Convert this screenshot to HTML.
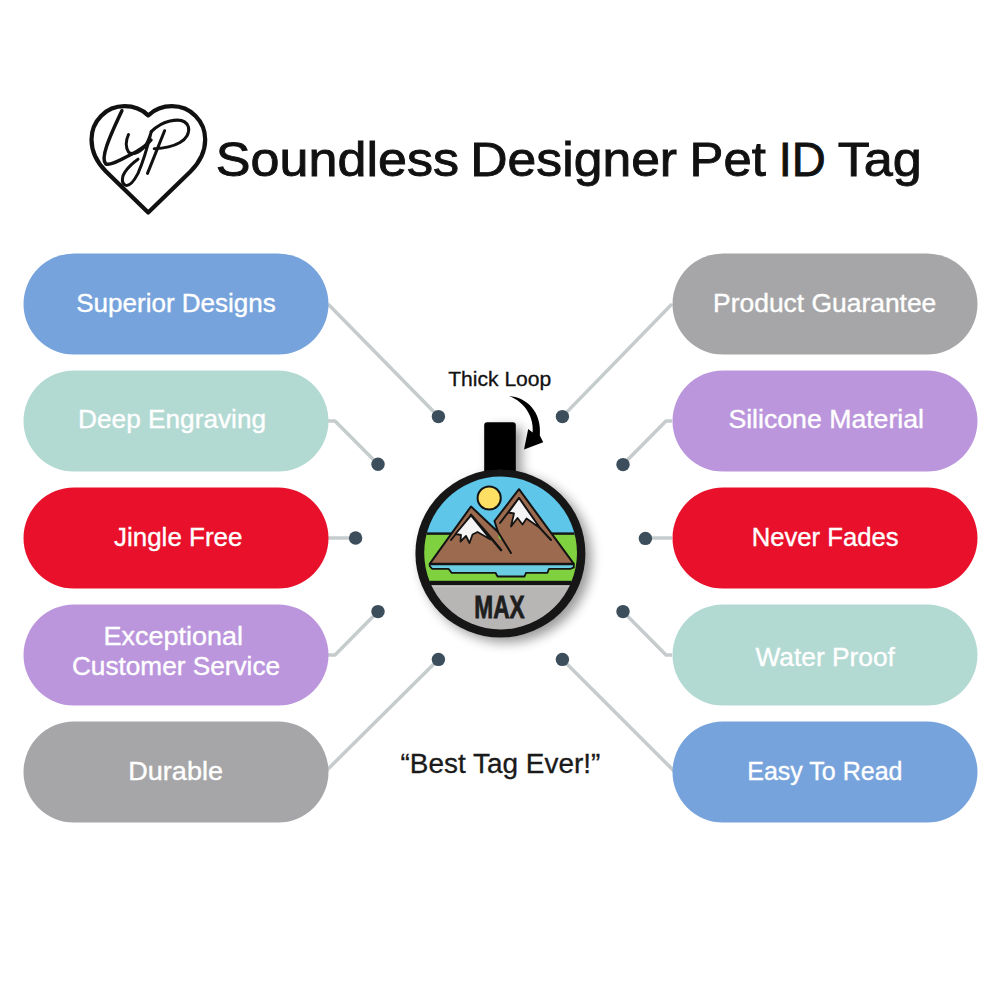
<!DOCTYPE html>
<html>
<head>
<meta charset="utf-8">
<style>
html,body{margin:0;padding:0;background:#fff;width:1000px;height:1000px;overflow:hidden}
svg{display:block}
text{font-family:"Liberation Sans",sans-serif}
.pt{fill:#fff;font-size:25px;text-anchor:middle;letter-spacing:0.4px;stroke:#fff;stroke-width:0.35px}
</style>
</head>
<body>
<svg width="1000" height="1000" viewBox="0 0 1000 1000">
<defs>
  <filter id="sh" x="-30%" y="-30%" width="160%" height="160%">
    <feGaussianBlur in="SourceAlpha" stdDeviation="6"/>
    <feOffset dx="6" dy="5" result="b"/>
    <feComponentTransfer><feFuncA type="linear" slope="0.4"/></feComponentTransfer>
    <feMerge><feMergeNode/><feMergeNode in="SourceGraphic"/></feMerge>
  </filter>
  <clipPath id="inner"><circle cx="500.6" cy="553" r="76.4"/></clipPath>
</defs>

<!-- heart logo -->
<g fill="none" stroke="#111" stroke-linecap="round" stroke-linejoin="round">
  <path stroke-width="4.2" d="M148.2,115.4 C140,107.5 132,106.2 124.5,106.2 C106,106.2 91.5,121 91.5,139.5 C91.5,151 96.5,162 106,171.5 L148.2,212.6 L190.5,171.5 C200,162 205.2,151 205.2,139.5 C205.2,121 190.5,106.2 172,106.2 C164.5,106.2 156.5,107.5 148.2,115.4 Z"/>
  <path stroke-width="3.5" d="M121.9,110.7 C117,121 110,136 106.7,146 C104,154 103,161 105.7,163.9 C110,166 120,160 130,155 C138,151 146,146 151,140"/>
  <path stroke-width="3" d="M128.5,134.5 C126,140 125.5,147 128.5,152 C131,155 138,154 144.7,146.8 C148,142 150,136 151.3,131.6 C148,145 143,162 138,173.4 C134,181 129,187 125,185 C121,183 122,176 125,172 C129,166 134,162 138,159.2"/>
  <path stroke-width="3" d="M164.6,130.7 L147.5,173.4"/>
  <path stroke-width="3" d="M151.3,131.6 C157,126 163,122.5 170,121 C177,119.5 186,119.5 188.4,126.9 C190,133 186,139 180,142.5 C173,146.5 163,148.5 154.2,148.7"/>
</g>

<!-- connectors -->
<g fill="none" stroke="#c6cccd" stroke-width="3.5" stroke-linejoin="round">
  <path d="M328,304 L438.4,416.6"/>
  <path d="M328,421 L335,421 L378,464.2"/>
  <path d="M328,538 L355.6,538"/>
  <path d="M328,655 L335,655 L378,611.6"/>
  <path d="M318,779 L438.4,659.4"/>
  <path d="M672,304 L562.4,416.6"/>
  <path d="M672,421 L666,421 L623,464.6"/>
  <path d="M672,538 L645.4,538"/>
  <path d="M672,655 L666,655 L623,611.6"/>
  <path d="M682,779 L562.4,659.4"/>
</g>
<g fill="#3c4e5b">
  <circle cx="438.4" cy="416.6" r="6.7"/>
  <circle cx="378" cy="464.2" r="6.7"/>
  <circle cx="355.6" cy="538" r="6.7"/>
  <circle cx="378" cy="611.6" r="6.7"/>
  <circle cx="438.4" cy="659.4" r="6.7"/>
  <circle cx="562.4" cy="416.6" r="6.7"/>
  <circle cx="623" cy="464.6" r="6.7"/>
  <circle cx="645.4" cy="538.4" r="6.7"/>
  <circle cx="623" cy="611.6" r="6.7"/>
  <circle cx="562.4" cy="659.4" r="6.7"/>
</g>

<!-- pills left -->
<rect x="23.5" y="253.5" width="305" height="101" rx="50.5" fill="#77a3dc"/>
<rect x="23.5" y="370.5" width="305" height="101" rx="50.5" fill="#b3d9d3"/>
<rect x="23.5" y="487.5" width="305" height="101" rx="50.5" fill="#e8102a"/>
<rect x="23.5" y="604.5" width="305" height="101" rx="50.5" fill="#bb96dc"/>
<rect x="23.5" y="721.5" width="305" height="101" rx="50.5" fill="#a6a6a8"/>
<!-- pills right -->
<rect x="672.5" y="253.5" width="305" height="101" rx="50.5" fill="#a6a6a8"/>
<rect x="672.5" y="370.5" width="305" height="101" rx="50.5" fill="#bb96dc"/>
<rect x="672.5" y="487.5" width="305" height="101" rx="50.5" fill="#e8102a"/>
<rect x="672.5" y="604.5" width="305" height="101" rx="50.5" fill="#b3d9d3"/>
<rect x="672.5" y="721.5" width="305" height="101" rx="50.5" fill="#77a3dc"/>

<text x="76.21" y="311.7" font-size="25" font-weight="400" fill="#fff" stroke="#fff" stroke-width="0.35" textLength="199.59" lengthAdjust="spacingAndGlyphs">Superior Designs</text>
<text x="78.10" y="427.6" font-size="25" font-weight="400" fill="#fff" stroke="#fff" stroke-width="0.35" textLength="187.96" lengthAdjust="spacingAndGlyphs">Deep Engraving</text>
<text x="114.00" y="546" font-size="25" font-weight="400" fill="#fff" stroke="#fff" stroke-width="0.35" textLength="128.40" lengthAdjust="spacingAndGlyphs">Jingle Free</text>
<text x="103.64" y="644.8" font-size="25" font-weight="400" fill="#fff" stroke="#fff" stroke-width="0.35" textLength="139.30" lengthAdjust="spacingAndGlyphs">Exceptional</text>
<text x="71.95" y="675" font-size="25" font-weight="400" fill="#fff" stroke="#fff" stroke-width="0.35" textLength="208.15" lengthAdjust="spacingAndGlyphs">Customer Service</text>
<text x="128.24" y="780" font-size="25" font-weight="400" fill="#fff" stroke="#fff" stroke-width="0.35" textLength="94.77" lengthAdjust="spacingAndGlyphs">Durable</text>
<text x="713.09" y="312" font-size="25" font-weight="400" fill="#fff" stroke="#fff" stroke-width="0.35" textLength="223.23" lengthAdjust="spacingAndGlyphs">Product Guarantee</text>
<text x="728.43" y="428" font-size="25" font-weight="400" fill="#fff" stroke="#fff" stroke-width="0.35" textLength="195.58" lengthAdjust="spacingAndGlyphs">Silicone Material</text>
<text x="751.70" y="546.25" font-size="25" font-weight="400" fill="#fff" stroke="#fff" stroke-width="0.35" textLength="146.96" lengthAdjust="spacingAndGlyphs">Never Fades</text>
<text x="755.50" y="666.25" font-size="25" font-weight="400" fill="#fff" stroke="#fff" stroke-width="0.35" textLength="139.42" lengthAdjust="spacingAndGlyphs">Water Proof</text>
<text x="747.25" y="780" font-size="25" font-weight="400" fill="#fff" stroke="#fff" stroke-width="0.35" textLength="155.20" lengthAdjust="spacingAndGlyphs">Easy To Read</text>
<text x="215.88" y="176.2" font-size="49" font-weight="400" fill="#111" stroke="#111" stroke-width="0.9" textLength="243.07" lengthAdjust="spacingAndGlyphs">Soundless</text>
<text x="470.28" y="176.2" font-size="49" font-weight="400" fill="#111" stroke="#111" stroke-width="0.9" textLength="206.83" lengthAdjust="spacingAndGlyphs">Designer</text>
<text x="689.61" y="176.2" font-size="49" font-weight="400" fill="#111" stroke="#111" stroke-width="0.9" textLength="76.19" lengthAdjust="spacingAndGlyphs">Pet</text>
<text x="778.66" y="176.2" font-size="49" font-weight="400" fill="#111" stroke="#111" stroke-width="0.9" textLength="47.01" lengthAdjust="spacingAndGlyphs">ID</text>
<text x="837.68" y="176.2" font-size="49" font-weight="400" fill="#111" stroke="#111" stroke-width="0.9" textLength="84.28" lengthAdjust="spacingAndGlyphs">Tag</text>
<text x="448.20" y="385.8" font-size="20" font-weight="400" fill="#111" stroke="#111" stroke-width="0.3" textLength="103.09" lengthAdjust="spacingAndGlyphs">Thick Loop</text>
<text x="400.46" y="772.5" font-size="27" font-weight="400" fill="#1a1a1a" stroke="#1a1a1a" stroke-width="0.3" textLength="199.95" lengthAdjust="spacingAndGlyphs">&#8220;Best Tag Ever!&#8221;</text>
<!-- arrow -->
<path transform="translate(440,360) scale(0.12)" fill="#000" d="M575,300 C720,310 850,430 832,630 L860,685 L700,745 L735,575 L772,605 C785,480 710,350 575,300 Z"/>

<!-- tag -->
<g filter="url(#sh)">
  <rect x="484.2" y="422.2" width="31.6" height="70" rx="3" fill="#000"/>
  <ellipse cx="500.4" cy="553.5" rx="85" ry="84" fill="#161616"/>
</g>
<g clip-path="url(#inner)">
  <rect x="420" y="470" width="165" height="64" fill="#5ec6e9"/>
  <rect x="420" y="533" width="165" height="49" fill="#80d13f"/>
  <rect x="420" y="580.8" width="165" height="4.4" fill="#141414"/>
  <rect x="420" y="585.2" width="165" height="50" fill="#b8b5b5"/>
  <rect x="420" y="585.6" width="165" height="1.2" fill="#cac7c7"/>
  <rect x="420" y="532.4" width="165" height="2.4" fill="#141414"/>
</g>
<circle cx="489.2" cy="498" r="11.6" fill="#fde063" stroke="#141414" stroke-width="2"/>
<g stroke="#141414" stroke-width="2" stroke-linejoin="round" stroke-linecap="round">
  <path fill="#9c6a4e" d="M429.7,563.8 L471,506.5 L498,532 L494.5,521 L519,489.2 L573.8,563.8 Z"/>
  <path fill="#80d13f" stroke="none" d="M498.6,534.2 L501.8,537 L500.5,540 L498.6,537.5 Z"/>
  <path fill="none" d="M498,532 L511,553"/>
  <path fill="none" stroke-width="2.6" d="M471,515 L486,532 M486,532 L501,550"/>
  <path fill="none" d="M451,540 L471,515"/>
  <path fill="none" d="M500,523 L519,498 L539,527 L551,540"/>
  <path fill="#f4f4f4" stroke-width="1.8" d="M471,515.5 L455.5,534 L461,535 L460.5,541.5 L466,536 L469.5,543 L472.5,534.5 L477.5,532 L490.5,539.5 Z"/>
  <path fill="#f4f4f4" stroke-width="1.8" d="M519,498 L508.5,512.5 L514,513.5 L511,526.5 L517.5,518 L522.5,524.5 L526.5,518.5 L540,528 Z"/>
  <path fill="#6acde1" stroke-width="1.8" d="M429.7,564.3 L573.8,564.3 L573.8,567.4 L570.7,568.8 L549,568.8 L547.5,572.8 L526,572.8 L524.5,576.5 L497.5,576.5 L495.5,572.8 L451.5,572.8 L448.5,568.8 L432,568.8 L429.7,566 Z"/>
</g>
<text x="474.34" y="617.5" font-size="31" font-weight="700" fill="#1e1e1e" stroke="#1e1e1e" stroke-width="0.8" textLength="50.38" lengthAdjust="spacingAndGlyphs">MAX</text>
</svg>
</body>
</html>
